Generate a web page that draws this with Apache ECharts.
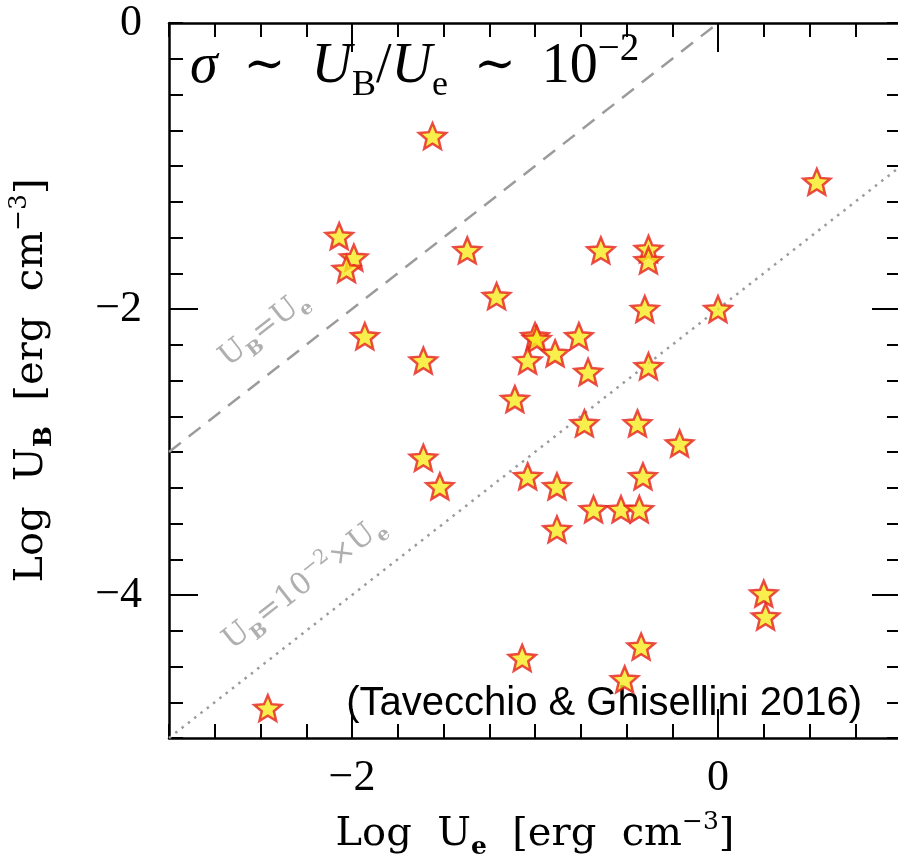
<!DOCTYPE html>
<html>
<head>
<meta charset="utf-8">
<script src="https://cdn.jsdelivr.net/npm/echarts@6/dist/echarts.min.js"></script>
<style>html,body{margin:0;padding:0;background:#fff}#c{width:898px;height:861px}</style>
</head>
<body>
<div id="c"></div>
<script>
// ---- data ----
const logUe = [-1.56, 0.54, -2.07, -1.99, -2.03, -1.93, -1.61, -1.61, -1.52, -1.37,
  -0.64, -0.38, -0.38, -1.21, -0.40, 0.00, -1.00, -0.99, -0.76, -0.89,
  -1.04, -0.71, -0.38, -1.11, -0.73, -0.44, -0.21, -1.04, -0.41, -0.88,
  -0.68, -0.53, -0.43, -0.88, 0.25, 0.26, -0.42, -1.07, -0.51, -2.46];
const logUB = [-0.79, -1.11, -1.49, -1.64, -1.72, -2.19, -2.36, -3.04, -3.24, -1.59,
  -1.59, -1.58, -1.66, -1.91, -2.00, -2.00, -2.19, -2.21, -2.19, -2.31,
  -2.36, -2.44, -2.40, -2.63, -2.80, -2.80, -2.94, -3.17, -3.17, -3.24,
  -3.40, -3.40, -3.40, -3.54, -3.99, -4.15, -4.36, -4.44, -4.59, -4.79];
const equipartitionLine = [[-3, -3], [0, 0]];      // U_B = U_e
const onePercentLine = [[-3, -5], [1, -1]];        // U_B = 1e-2 U_e
const xRange = [-3, 1];
const yRange = [-5, 0];
const xLabelValues = [-2, 0];
const yLabelValues = [0, -2, -4];
const xMajorTicks = [-2, 0];
const yMajorTicks = [-4, -2];
const eqLabelPos = [[-2.48, -2.14]];
const pctLabelPos = [[-2.26, -3.92]];

const starPath = 'path://M50 0 L63.23 31.8 L97.55 34.55 L71.4 56.95 L79.39 90.45 L50 72.5 L20.61 90.45 L28.6 56.95 L2.45 34.55 L36.77 31.8 Z';
const fmt = v => v < 0 ? '\u2212' + Math.abs(v) : String(v);
const serifTick = {fontFamily: 'Liberation Serif, DejaVu Serif, serif', fontSize: 44, color: '#000'};
const axisTitleFont = 'DejaVu Serif, serif';
const gray = '#9b9b9b';
const MAJOR_LEN = 29;

function mkAxis(pos, range, opts) {
  return Object.assign({
    type: 'value', position: pos, min: range[0], max: range[1],
    splitLine: {show: false}, axisPointer: {show: false},
    interval: 0.25,
    axisLine: {show: true, onZero: false, lineStyle: {color: '#000', width: 2.5}},
    axisTick: {show: true, inside: true, length: 14, lineStyle: {color: '#000', width: 2}},
    axisLabel: opts.labels ? Object.assign({show: true, customValues: opts.labels, formatter: fmt, margin: opts.margin}, serifTick) : {show: false}
  }, opts.extra || {});
}

const titleRich = {
  t: {fontFamily: axisTitleFont, fontSize: 40, color: '#000', lineHeight: 50, verticalAlign: 'middle'},
  sb: {fontFamily: axisTitleFont, fontSize: 25, fontWeight: 'bold', color: '#000', lineHeight: 32, verticalAlign: 'bottom'},
  sp: {fontFamily: axisTitleFont, fontSize: 25, color: '#000', lineHeight: 30, verticalAlign: 'top'}
};

const xAxes = [
  mkAxis('bottom', xRange, {labels: xLabelValues, margin: 18, extra: {
    name: '{t|Log  U}{sb|e}{t|  [erg  cm}{sp|\u22123}{t|]}', nameLocation: 'middle', nameGap: 72,
    nameTextStyle: {rich: titleRich}
  }}),
  mkAxis('top', xRange, {})
];
const yAxes = [
  mkAxis('left', yRange, {labels: yLabelValues, margin: 27, extra: {
    name: '{t|Log  U}{sb|B}{t|  [erg  cm}{sp|\u22123}{t|]}', nameLocation: 'middle', nameGap: 112, nameRotate: 90,
    nameTextStyle: {rich: titleRich}
  }}),
  mkAxis('right', yRange, {})
];

const lblRich = {
  t: {fontFamily: axisTitleFont, fontSize: 30, color: gray, lineHeight: 40, verticalAlign: 'middle'},
  sb: {fontFamily: axisTitleFont, fontSize: 19, fontWeight: 'bold', color: gray, lineHeight: 27, verticalAlign: 'bottom'},
  sp: {fontFamily: axisTitleFont, fontSize: 20, color: gray, lineHeight: 24, verticalAlign: 'top'}
};

const tickStyle = {stroke: '#000', lineWidth: 2};
// long (major) ticks, positioned through the axes' own scales
function majorTickSeries(values, dim) {
  return {
    type: 'custom', silent: true, clip: false, z: 3,
    data: values.map(v => dim === 'x' ? [v, yRange[0]] : [xRange[0], v]),
    renderItem: function (params, api) {
      if (dim === 'x') {
        const v = api.value(0);
        const b = api.coord([v, yRange[0]]);
        const t = api.coord([v, yRange[1]]);
        return {type: 'group', children: [
          {type: 'line', shape: {x1: b[0], y1: b[1], x2: b[0], y2: b[1] - MAJOR_LEN}, style: tickStyle},
          {type: 'line', shape: {x1: t[0], y1: t[1], x2: t[0], y2: t[1] + MAJOR_LEN}, style: tickStyle}
        ]};
      }
      const v = api.value(1);
      const l = api.coord([xRange[0], v]);
      const r = api.coord([xRange[1], v]);
      return {type: 'group', children: [
        {type: 'line', shape: {x1: l[0], y1: l[1], x2: l[0] + MAJOR_LEN, y2: l[1]}, style: tickStyle},
        {type: 'line', shape: {x1: r[0], y1: r[1], x2: r[0] - MAJOR_LEN, y2: r[1]}, style: tickStyle}
      ]};
    }
  };
}

const mainSerif = 'Liberation Serif, DejaVu Serif, serif';
const chart = echarts.init(document.getElementById('c'), null, {renderer: 'canvas'});
chart.setOption({
  animation: false,
  backgroundColor: '#fff',
  grid: {left: 169, top: 23, right: -3, bottom: 123, containLabel: false, outerBoundsMode: 'none'},
  title: {
    left: 190, top: 30, padding: 0,
    text: '{i|\u03c3}{rel|\u223c}{i|U}{sb|B}{r|/}{i|U}{sb|e}{rel|\u223c}{r|10}{sp|\u22122}',
    textStyle: {fontWeight: 'normal', rich: {
      i: {fontFamily: mainSerif, fontStyle: 'italic', fontWeight: 'normal', fontSize: 56, color: '#000', lineHeight: 74, verticalAlign: 'middle'},
      r: {fontFamily: mainSerif, fontWeight: 'normal', fontSize: 56, color: '#000', lineHeight: 74, verticalAlign: 'middle'},
      rel: {fontFamily: 'DejaVu Serif, serif', fontWeight: 'normal', fontSize: 50, color: '#000', lineHeight: 74, verticalAlign: 'middle', padding: [0, 26]},
      sb: {fontFamily: mainSerif, fontWeight: 'normal', fontSize: 36, color: '#000', lineHeight: 44, verticalAlign: 'bottom'},
      sp: {fontFamily: mainSerif, fontWeight: 'normal', fontSize: 39, color: '#000', lineHeight: 36, verticalAlign: 'top'}
    }}
  },
  graphic: [{
    type: 'text', right: 36, top: 684,
    style: {text: '(Tavecchio & Ghisellini 2016)', font: '40px "Liberation Sans", Arial, sans-serif', fill: '#000'}
  }],
  xAxis: xAxes,
  yAxis: yAxes,
  series: [
    {type: 'line', data: equipartitionLine, symbol: 'none', z: 1, silent: true,
     lineStyle: {color: gray, width: 2.5, type: [15, 10]}},
    {type: 'line', data: onePercentLine, symbol: 'none', z: 1, silent: true,
     lineStyle: {color: gray, width: 2.5, type: [2.5, 5.5]}},
    {type: 'scatter', data: eqLabelPos, symbolSize: 0, z: 2, silent: true,
     label: {show: true, position: 'inside', rotate: 38, formatter: '{t|U}{sb|B}{t|=U}{sb|e}', rich: lblRich}},
    {type: 'scatter', data: pctLabelPos, symbolSize: 0, z: 2, silent: true,
     label: {show: true, position: 'inside', rotate: 38, formatter: '{t|U}{sb|B}{t|=10}{sp|\u22122}{t|\u00d7U}{sb|e}', rich: lblRich}},
    majorTickSeries(xMajorTicks, 'x'),
    majorTickSeries(yMajorTicks, 'y'),
    {type: 'scatter', z: 5, symbol: starPath, symbolSize: 27, symbolKeepAspect: true,
     data: logUe.map((x, i) => [x, logUB[i]]),
     itemStyle: {color: '#f6ea1f', borderColor: '#e6201f', borderWidth: 2.5}}
  ]
});
</script>
</body>
</html>
